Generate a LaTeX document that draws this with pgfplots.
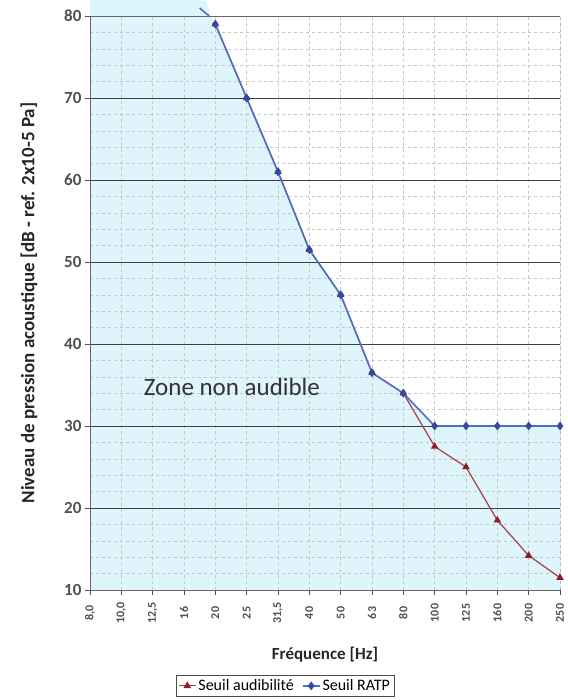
\documentclass[border=0pt]{standalone}
\usepackage{pgfplots}
\pgfplotsset{compat=1.18}
\usepackage{fontspec}
\setmainfont{Carlito}
\definecolor{zonefill}{RGB}{222,245,251}
\definecolor{ratp}{RGB}{79,111,196}
\definecolor{ratpmark}{RGB}{50,75,160}
\definecolor{audi}{RGB}{170,60,70}
\definecolor{audimark}{RGB}{140,30,40}
\definecolor{tickgray}{RGB}{80,80,80}
\begin{document}
\begin{tikzpicture}
\begin{axis}[
  scale only axis,
  width=470pt, height=574pt,
  xmin=0, xmax=15, ymin=10, ymax=80,
  xtick={0,...,15},
  xticklabels={8{,}0,10{,}0,12{,}5,16,20,25,31{,}5,40,50,63,80,100,125,160,200,250},
  x tick label style={rotate=90, anchor=center, font=\bfseries\fontsize{12}{13}\selectfont, text=tickgray},
  xticklabel shift=18pt,
  ytick={10,20,...,80},
  y tick label style={font=\bfseries\fontsize{17}{18}\selectfont, text=tickgray},
  /pgf/number format/assume math mode=true,
  minor y tick num=4,
  tick align=outside,
  major tick length=5pt,
  minor tick length=0pt,
  tick style={draw=tickgray, thick},
  xmajorgrids, ymajorgrids, yminorgrids,
  major grid style={draw=black!75, thin},
  minor grid style={draw=black!22, dashed, thin},
  x grid style={draw=black!22, dashed, thin},
  axis line style={draw=black!60},
  axis x line*=bottom,
  axis y line*=left,
  xlabel={\bfseries Fréquence [Hz]},
  xlabel style={font=\fontsize{17}{19}\selectfont, text=black!85, at={(0.5,-0.112)}, anchor=center},
  ylabel={\bfseries Niveau de pression acoustique [dB - ref. 2x10-5 Pa]},
  ylabel style={font=\fontsize{19}{21}\selectfont, text=black!85, at={(-0.13,0.5)}, anchor=center},
  legend columns=2,
  legend style={at={(0.415,-0.167)}, anchor=center, font=\fontsize{16}{18}\selectfont, draw=black!70, inner sep=2pt, /tikz/every even column/.append style={column sep=6pt}},
  clip=true,
  set layers,
]
\addplot[fill=zonefill, draw=none, forget plot, on layer=axis background] coordinates {(0,100)(1,100)(2,100)(3,88)(4,79)(5,70)(6,61)(7,51.5)(8,46)(9,36.5)(10,34)(11,30)(12,30)(13,30)(14,30)(15,30)} \closedcycle;
\draw[black!60] (axis cs:15,10) -- (axis cs:15,80) -- (axis cs:0,80);
\addplot[color=audi, line width=1.2pt, mark=triangle*, mark size=3.2pt, mark options={fill=audimark, draw=audimark}] coordinates {(4,79)(5,70)(6,61)(7,51.5)(8,46)(9,36.5)(10,34)(11,27.5)(12,25)(13,18.5)(14,14.2)(15,11.5)};
\addlegendentry{Seuil audibilité}
\addplot[color=ratp, line width=1.6pt, mark=diamond*, mark size=4pt, mark options={fill=ratpmark, draw=ratpmark, line width=0.5pt}] coordinates {(4,79)(5,70)(6,61)(7,51.5)(8,46)(9,36.5)(10,34)(11,30)(12,30)(13,30)(14,30)(15,30)};
\addlegendentry{Seuil RATP}
\node[font=\fontsize{25}{28}\selectfont, text=black!80] at (axis cs:4.53,34.8) {Zone non audible};
\end{axis}
\path (current axis.south west) ++(-90pt,-110pt) coordinate (bbA);
\path (current axis.north east) ++(6pt,16pt) coordinate (bbB);
\useasboundingbox (bbA) rectangle (bbB);
\draw[color=ratp, line width=1.6pt] (current axis.north west) ++(3.8*470/15 pt, 0) -- ++(-0.3*470/15 pt, 8pt);
\end{tikzpicture}
\end{document}
